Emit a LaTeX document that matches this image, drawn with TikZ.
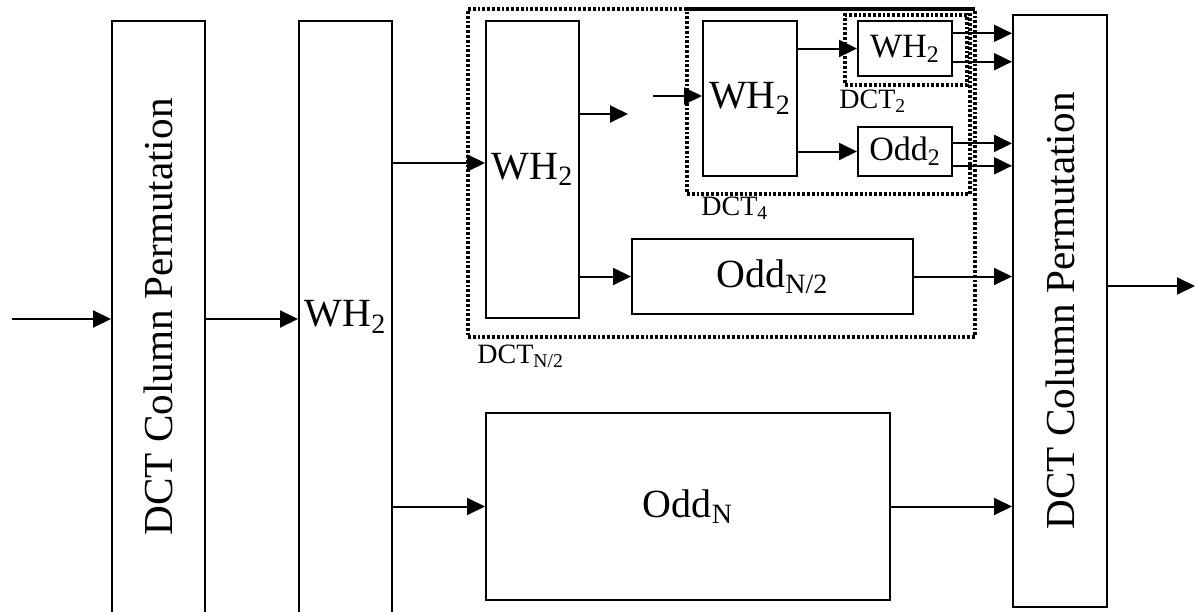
\documentclass[tikz,border=0pt]{standalone}
\usepackage{fontspec}
\setmainfont{Liberation Serif}
\usetikzlibrary{arrows.meta}
\begin{document}
\begin{tikzpicture}[x=0.5pt, y=-0.5pt,
	box/.style={draw, line width=1pt, inner sep=0pt},
	dotbox/.style={draw, line width=1.6pt, dash pattern=on 1.4pt off 1pt, inner sep=0pt},
	arr/.style={line width=1pt, -{Triangle[length=9pt, width=8.5pt]}},
	big/.style={font=\fontsize{20}{24}\selectfont},
	perm/.style={font=\fontsize{20.6}{24}\selectfont},
	small/.style={font=\fontsize{17}{20}\selectfont},
	lbl/.style={font=\fontsize{14}{17}\selectfont, inner sep=0pt, anchor=west}]
	\def\u{0.5pt}
	\useasboundingbox (0,0) rectangle (1195,611);
	\clip (0,0) rectangle (1195,611);
	\node[box, perm, minimum width=93*\u, minimum height=592*\u] (perm1) at (158.5,317) {\rotatebox{90}{DCT Column Permutation}};
	\node[box, big, minimum width=93*\u, minimum height=592*\u] (wh2big) at (345.5,317) {WH\textsubscript{2}};
	\node[box, perm, minimum width=94*\u, minimum height=592*\u] (perm2) at (1060,311) {\rotatebox{90}{DCT Column Permutation}};
	\node[box, big, minimum width=93*\u, minimum height=297*\u] (wh2a) at (532.5,169.5) {WH\textsubscript{2}};
	\node[box, big, minimum width=281*\u, minimum height=75*\u] (oddNh) at (772.5,276.5) {Odd\textsubscript{N/2}};
	\node[box, big, minimum width=404*\u, minimum height=187*\u] (oddN) at (688,506.5) {Odd\textsubscript{N}};
	\node[box, big, minimum width=94*\u, minimum height=155*\u] (wh2b) at (750,98.5) {WH\textsubscript{2}};
	\node[box, small, minimum width=94*\u, minimum height=55*\u] (wh2c) at (905,48.5) {WH\textsubscript{2}};
	\node[box, small, minimum width=94*\u, minimum height=49*\u] (odd2) at (905,151.5) {Odd\textsubscript{2}};
	\node[dotbox, minimum width=507*\u, minimum height=328*\u] (dctNh) at (721.5,173) {};
	\node[dotbox, minimum width=283*\u, minimum height=185*\u] (dct4) at (828.5,101.5) {};
	\node[dotbox, minimum width=122*\u, minimum height=70*\u] (dct2) at (906,50) {};
	\node[lbl] (dctNhlbl) at (477,356) {DCT\textsubscript{N/2}};
	\node[lbl] (dct4lbl) at (701,208) {DCT\textsubscript{4}};
	\node[lbl] (dct2lbl) at (839,101) {DCT\textsubscript{2}};
	\coordinate (in) at (12,319);
	\coordinate (out) at (1195,286);
	\coordinate (gapa) at (628,114);
	\coordinate (gapb) at (653,96);
	\coordinate (wh2ain) at ([yshift=3.25pt]wh2a.west);
	\draw[arr] (in) -- (perm1.west |- in);
	\draw[arr] (perm1.east |- in) -- (wh2big.west |- in);
	\draw[arr] (wh2big.east |- wh2ain) -- (wh2ain);
	\draw[arr] (wh2big.east |- oddN.west) -- (oddN.west);
	\draw[arr] (wh2a.east |- gapa) -- (gapa);
	\draw[arr] (gapb) -- (wh2b.west |- gapb);
	\draw[arr] (wh2a.east |- oddNh.west) -- (oddNh.west);
	\draw[arr] (wh2b.east |- wh2c.west) -- (wh2c.west);
	\draw[arr] (wh2b.east |- odd2.west) -- (odd2.west);
	\foreach \n/\s in {wh2c/7.6, wh2c/-6.6, odd2/4.05, odd2/-7.15}{
		\coordinate (p) at ([yshift=\s pt]\n.east);
		\draw[arr] (p) -- (p -| perm2.west);
	}
	\draw[arr] (oddNh.east) -- (oddNh.east -| perm2.west);
	\draw[arr] (oddN.east) -- (oddN.east -| perm2.west);
	\draw[arr] (perm2.east |- out) -- (out);
\end{tikzpicture}
\end{document}
